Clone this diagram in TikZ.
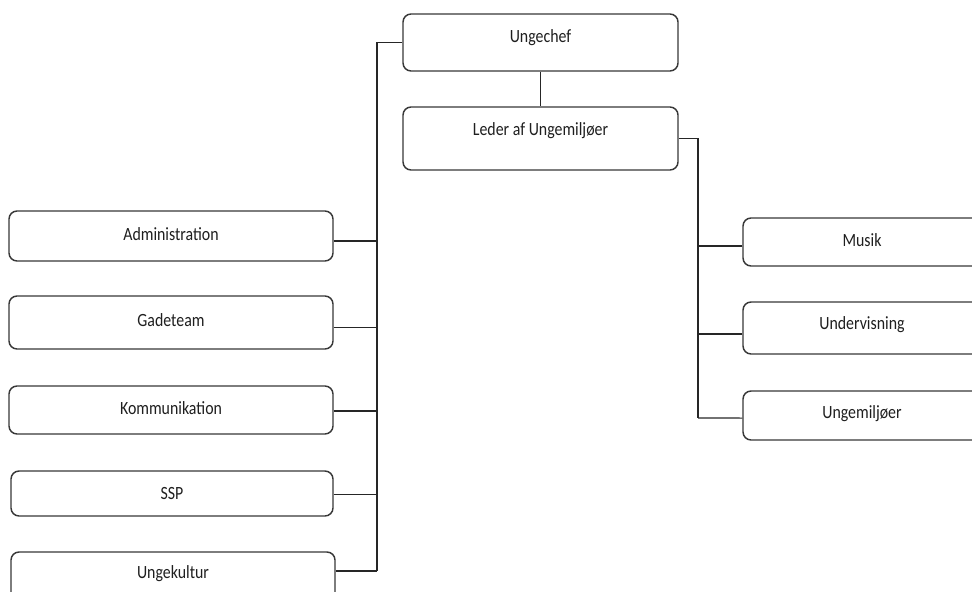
\documentclass[tikz,border=0pt]{standalone}
\usepackage{fontspec}
\setmainfont{Carlito}[FakeStretch=0.85]
\begin{document}
\begin{tikzpicture}[x=0.75pt,y=-0.75pt,
  box/.style={draw=black!78, line width=1.1pt, rounded corners=6pt, fill=white, inner sep=0pt},
  lbl/.style={text=black!88, font=\fontsize{14}{16}\selectfont, inner sep=0pt},
  conn/.style={draw=black!85, line width=0.8pt}]
\useasboundingbox (0,0) rectangle (972,592);
\clip (0,0) rectangle (972,592);
% top
\node[box, minimum width=206.25pt, minimum height=42.75pt, label={[lbl,yshift=3.4pt]center:Ungechef}] (ung) at (540.5,42.5) {};
\node[box, minimum width=206.25pt, minimum height=47.25pt, label={[lbl,yshift=5.6pt]center:Leder af Ungemiljøer}] (led) at (540.5,138.5) {};
% left
\node[box, minimum width=243pt, minimum height=37.5pt, label={[lbl,yshift=1.5pt]center:Administration}] (adm) at (171,236) {};
\node[box, minimum width=243pt, minimum height=39.75pt, label={[lbl,yshift=1.9pt]center:Gadeteam}] (gad) at (171,322.5) {};
\node[box, minimum width=243pt, minimum height=36pt, label={[lbl,yshift=1.5pt]center:Kommunikation}] (kom) at (171,410) {};
\node[box, minimum width=241.5pt, minimum height=33.75pt, label={[lbl]center:SSP}] (ssp) at (172,493.5) {};
\node[box, minimum width=243pt, minimum height=36pt, label={[lbl,yshift=1.5pt]center:Ungekultur}] (ugk) at (173,576) {};
% right
\node[box, minimum width=178.5pt, minimum height=36pt, label={[lbl,yshift=1.5pt]center:Musik}] (mus) at (862,242) {};
\node[box, minimum width=178.5pt, minimum height=39pt, label={[lbl,yshift=2.25pt]center:Undervisning}] (und) at (862,328) {};
\node[box, minimum width=178.5pt, minimum height=36.75pt, label={[lbl,yshift=1.1pt]center:Ungemiljøer}] (umj) at (862,415.5) {};
% connectors
\coordinate (tL) at (377,42.5);
\coordinate (tLb) at (377,571);
\coordinate (tR) at (698,138.5);
\coordinate (tRb) at (698,418);
\draw[conn] (ung.south) -- (led.north);
\draw[conn] (ung.west) -- (tL) -- (tLb);
\draw[conn] ([yshift=-3.75pt]adm.east) -- ([yshift=-3.75pt]adm.east -| tL);
\draw[conn] ([yshift=-3.4pt]gad.east) -- ([yshift=-3.4pt]gad.east -| tL);
\draw[conn] ([yshift=-0.75pt]kom.east) -- ([yshift=-0.75pt]kom.east -| tL);
\draw[conn] ([yshift=-0.4pt]ssp.east) -- ([yshift=-0.4pt]ssp.east -| tL);
\draw[conn] ([yshift=3.75pt]ugk.east) -- (tLb);
\draw[conn] (led.east) -- (tR) -- (tRb);
\draw[conn] ([yshift=-3pt]mus.west) -- ([yshift=-3pt]mus.west -| tR);
\draw[conn] ([yshift=-4.5pt]und.west) -- ([yshift=-4.5pt]und.west -| tR);
\draw[conn] ([yshift=-1.9pt]umj.west) -- (tRb);
\end{tikzpicture}
\end{document}
